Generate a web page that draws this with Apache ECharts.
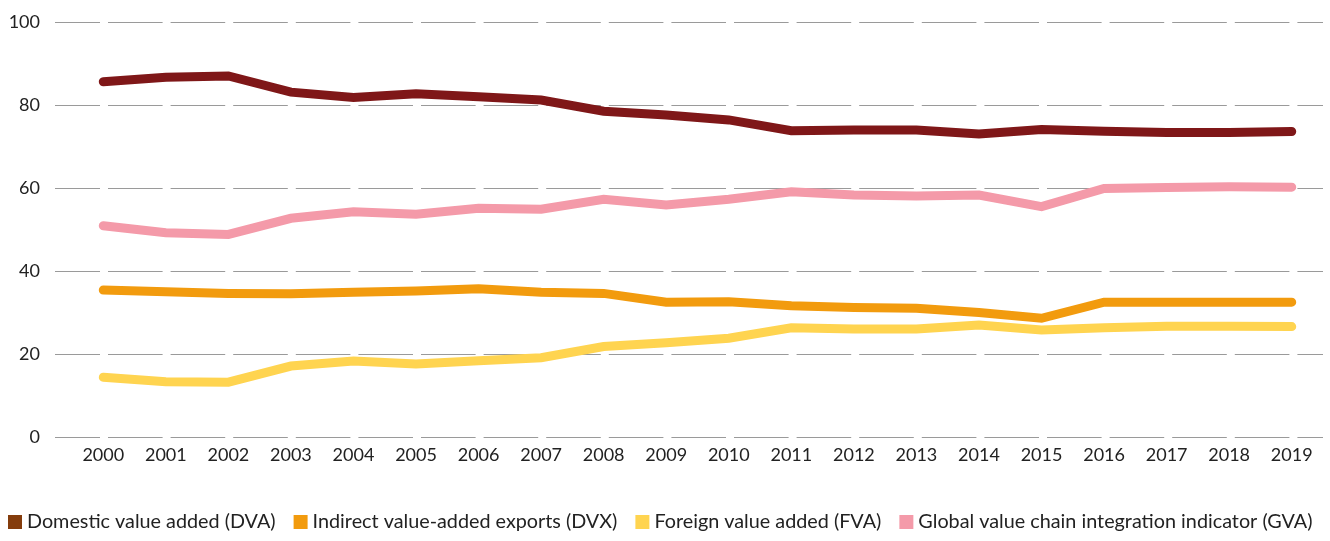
<!DOCTYPE html>
<html>
<head>
<meta charset="utf-8">
<script src="https://cdn.jsdelivr.net/npm/echarts@6/dist/echarts.min.js"></script>
<style>html,body{margin:0;padding:0;background:#fff;}#c{width:1330px;height:541px;}</style>
</head>
<body>
<div id="c"></div>
<script>
const years = ['2000','2001','2002','2003','2004','2005','2006','2007','2008','2009','2010','2011','2012','2013','2014','2015','2016','2017','2018','2019'];
const dva = [85.6, 86.7, 87.0, 83.1, 81.8, 82.7, 82.0, 81.2, 78.5, 77.6, 76.4, 73.8, 74.0, 74.0, 73.0, 74.1, 73.7, 73.4, 73.4, 73.6];
const dvx = [35.4, 35.0, 34.6, 34.5, 34.9, 35.2, 35.7, 34.9, 34.6, 32.5, 32.6, 31.6, 31.2, 31.0, 30.0, 28.6, 32.5, 32.5, 32.5, 32.5];
const fva = [14.4, 13.3, 13.2, 17.1, 18.3, 17.6, 18.4, 19.1, 21.8, 22.7, 23.8, 26.3, 26.0, 26.0, 27.0, 25.8, 26.3, 26.7, 26.7, 26.6];
const gva = [50.9, 49.2, 48.8, 52.7, 54.3, 53.7, 55.1, 54.9, 57.3, 55.9, 57.3, 59.1, 58.3, 58.1, 58.3, 55.5, 59.9, 60.1, 60.3, 60.2];
const yTicks = [0, 20, 40, 60, 80, 100];
const names = ['Domestic value added (DVA)', 'Indirect value-added exports (DVX)', 'Foreign value added (FVA)', 'Global value chain integration indicator (GVA)'];

const font = 'Lato, "Noto Sans", sans-serif';
const chart = echarts.init(document.getElementById('c'));
function mk(name, data, lineColor, iconColor) {
  return {
    name: name, type: 'line', data: data, xAxisIndex: 0, yAxisIndex: 0,
    symbol: 'none', smooth: false,
    lineStyle: { color: lineColor, width: 9, cap: 'round', join: 'miter' },
    itemStyle: { color: iconColor },
    emphasis: { disabled: true }, animation: false
  };
}
chart.setOption({
  animation: false,
  textStyle: { fontFamily: font },
  grid: [
    { left: 72, right: 7, top: 22, bottom: 104 },
    { left: 55, right: 7, top: 22, bottom: 104 }
  ],
  xAxis: [
    { type: 'category', gridIndex: 0, data: years, boundaryGap: true,
      axisLine: { show: false }, axisTick: { show: false },
      axisLabel: { color: '#222', fontSize: 18, fontFamily: font, margin: 9, interval: 0 } },
    { type: 'category', gridIndex: 1, data: years, show: false }
  ],
  yAxis: [
    { type: 'value', gridIndex: 0, min: 0, max: 100, interval: 20,
      axisLabel: { show: false }, splitLine: { show: false }, axisLine: { show: false }, axisTick: { show: false } },
    { type: 'value', gridIndex: 1, min: yTicks[0], max: yTicks[yTicks.length - 1], interval: 20,
      axisLine: { show: false }, axisTick: { show: false },
      axisLabel: { color: '#222', fontSize: 18, fontFamily: font, margin: 15 },
      splitLine: { show: true, lineStyle: { color: '#9a9a9a', width: 1.2, type: [54.6, 8], dashOffset: 9.6 } } }
  ],
  legend: {
    left: 3, bottom: 4, icon: 'rect', itemWidth: 14, itemHeight: 14, itemGap: 18, itemTextGap: 4,
    textStyle: { color: '#222', fontSize: 19.8, fontFamily: font },
    data: names
  },
  series: [
    mk(names[0], dva, '#7f1718', '#843c0c'),
    mk(names[1], dvx, '#f29b0e', '#f29b0e'),
    mk(names[2], fva, '#ffd450', '#ffd450'),
    mk(names[3], gva, '#f49aa9', '#f49aa9')
  ]
});
</script>
</body>
</html>
